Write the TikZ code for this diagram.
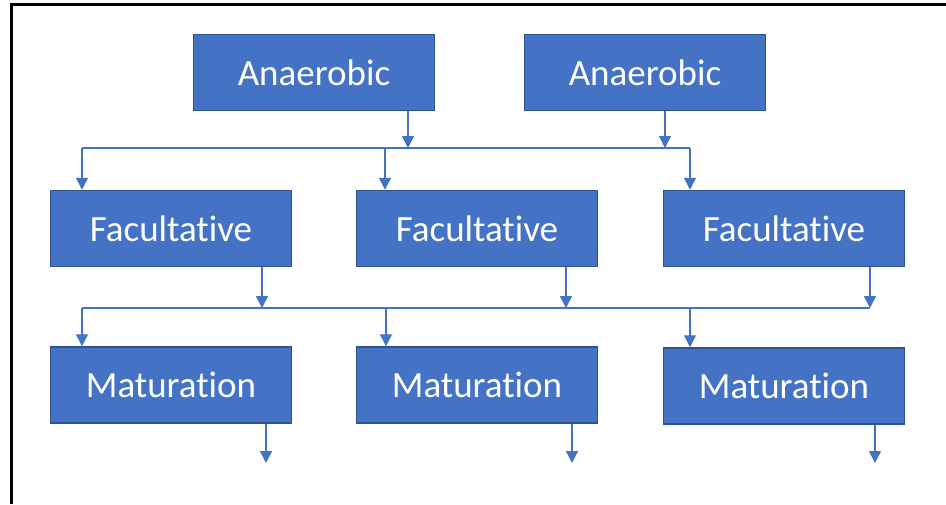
\documentclass[tikz,border=0pt]{standalone}
\usepackage{fontspec}
\setmainfont[Ligatures={NoCommon}]{Carlito}
\usetikzlibrary{arrows.meta}
\definecolor{boxblue}{HTML}{4472C4}
\definecolor{boxedge}{HTML}{2F528F}
\tikzset{
	stage/.style={draw=boxedge, line width=1.5pt, fill=boxblue, text=white,
		minimum width=241pt, minimum height=76pt, inner sep=0pt,
		font=\fontsize{37}{40}\selectfont},
	bus/.style={draw=boxblue, line width=1.4pt},
	flow/.style={bus, -{Triangle[width=12pt,length=12pt]}}
}
\begin{document}
\begin{tikzpicture}[x=1pt,y=-1pt]
	\useasboundingbox (0,0) rectangle (946,504);
	% frame
	\draw[line width=3pt] (11.5,504) -- (11.5,4.5) -- (946,4.5);

	% boxes
	\node[stage] (an1) at (314,72.5) {Anaerobic};
	\node[stage] (an2) at (645,72.5) {Anaerobic};
	\node[stage] (fa1) at (171,228.5) {Facultative};
	\node[stage] (fa2) at (477,228.5) {Facultative};
	\node[stage] (fa3) at (784,228.5) {Facultative};
	\node[stage] (ma1) at (171,385) {Maturation};
	\node[stage] (ma2) at (477,385) {Maturation};
	\node[stage] (ma3) at (784,386) {Maturation};

	% first bus
	\coordinate (ta1) at (408,148);
	\coordinate (ta2) at (665,148);
	\coordinate (tb1) at (82,148);
	\coordinate (tb2) at (385,148);
	\coordinate (tb3) at (690,148);
	\draw[bus] (tb1) -- (tb3);
	\foreach \n/\c in {an1/ta1,an2/ta2}
		\draw[flow] (\n.south -| \c) -- (\c);
	\foreach \n/\c in {fa1/tb1,fa2/tb2,fa3/tb3}
		\draw[flow] (\c) -- (\n.north -| \c);

	% second bus
	\coordinate (sa1) at (262,308);
	\coordinate (sa2) at (566,308);
	\coordinate (sa3) at (870,308);
	\coordinate (sb1) at (82,308);
	\coordinate (sb2) at (386,308);
	\coordinate (sb3) at (690,308);
	\draw[bus] (sb1) -- (sa3);
	\foreach \n/\c in {fa1/sa1,fa2/sa2,fa3/sa3}
		\draw[flow] (\n.south -| \c) -- (\c);
	\foreach \n/\c in {ma1/sb1,ma2/sb2,ma3/sb3}
		\draw[flow] (\c) -- (\n.north -| \c);

	% outputs
	\coordinate (out1) at (266,463);
	\coordinate (out2) at (572,463);
	\coordinate (out3) at (875,463);
	\foreach \n/\c in {ma1/out1,ma2/out2,ma3/out3}
		\draw[flow] (\n.south -| \c) -- (\c);
\end{tikzpicture}
\end{document}
